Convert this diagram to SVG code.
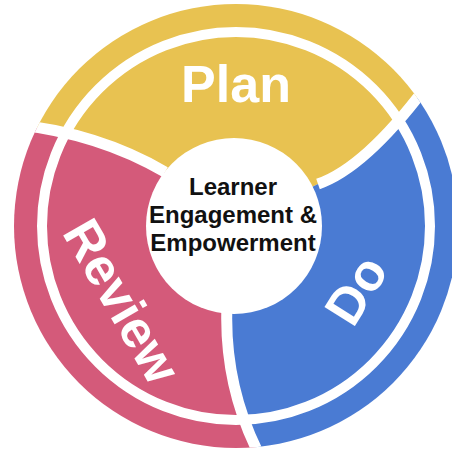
<svg xmlns="http://www.w3.org/2000/svg" width="452" height="449" viewBox="0 0 452 449">
  <defs>
    <clipPath id="disc">
      <circle cx="236" cy="226" r="222"/>
    </clipPath>
    <style>
      .gap { fill: none; stroke: #ffffff; stroke-width: 11; }
      .ring { fill: none; stroke: #ffffff; stroke-width: 10; }
      .label { font-family: "Liberation Sans", Arial, sans-serif; font-weight: bold; fill: #ffffff; font-size: 52px; text-anchor: middle; }
      .hub-text { font-family: "Liberation Sans", Arial, sans-serif; font-weight: bold; fill: #111111; font-size: 24px; text-anchor: middle; }
    </style>
  </defs>
  <rect width="452" height="449" fill="#ffffff"/>

  <g clip-path="url(#disc)">
    <g id="plan">
      <path fill="#E8C251" d="M234 226 L165 172 Q96.5 132 10 124 L-30 120 L-30 -30 L480 -30 L480 60 L425 88 Q364.5 168 318 184 Z"/>
    </g>
    <g id="do">
      <path fill="#4A7BD3" d="M234 226 L318 184 Q364.5 168 425 88 L480 60 L480 480 L270 480 L262 460 Q223.5 387.5 227 305 Z"/>
    </g>
    <g id="review">
      <path fill="#D45A7A" d="M234 226 L227 305 Q223.5 387.5 262 460 L270 480 L-30 480 L-30 120 L10 124 Q96.5 132 165 172 Z"/>
    </g>
    <g id="connectors">
      <circle class="ring" cx="236" cy="226" r="194"/>
      <path class="gap" d="M318 184 Q364.5 168 425 88"/>
      <path class="gap" d="M227 305 Q223.5 387.5 262 460"/>
      <path class="gap" d="M165 172 Q96.5 132 10 124"/>
    </g>
  </g>

  <g id="hub">
    <circle cx="234" cy="226" r="88" fill="#ffffff"/>
    <text class="hub-text" x="233" y="195">Learner</text>
    <text class="hub-text" x="233" y="223">Engagement &amp;</text>
    <text class="hub-text" x="233" y="251">Empowerment</text>
  </g>

  <text class="label" x="236" y="102">Plan</text>
  <text class="label" transform="translate(356 290) rotate(-58)" x="0" y="18">Do</text>
  <text class="label" transform="translate(122 301) rotate(60)" x="0" y="18">Review</text>
</svg>
